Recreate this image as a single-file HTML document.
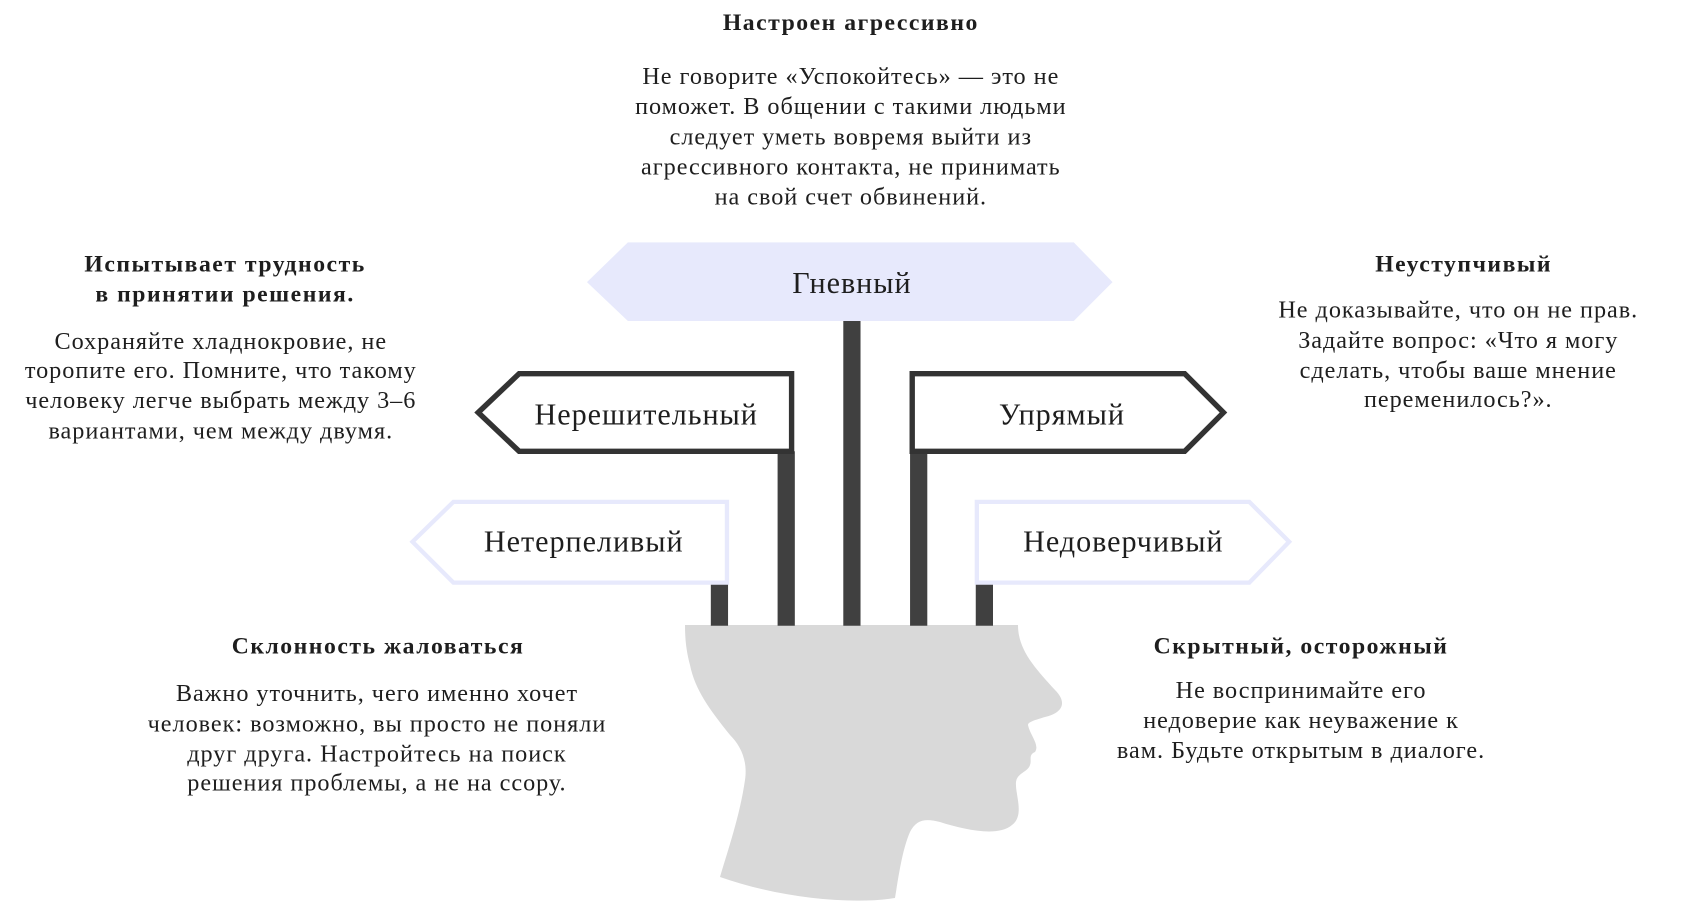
<!DOCTYPE html>
<html><head><meta charset="utf-8"><style>
html,body{margin:0;padding:0;background:#fff;width:1690px;height:903px;overflow:hidden}
svg text{font-family:"Liberation Serif","DejaVu Serif",serif;fill:#1e1e1e}
.b{font-weight:bold;font-size:22px;letter-spacing:1.4px}
.t{font-size:22.5px;letter-spacing:0.9px}
.s{font-size:28px;letter-spacing:0.9px}
</style></head><body>
<svg width="1690" height="903" viewBox="0 0 1690 903" xmlns="http://www.w3.org/2000/svg">
<path fill="#d9d9d9" d="M685,625 L1018,625 C1018,650 1035,668 1055,690 C1068,703 1062,713 1045,717 C1035,720 1028,722 1028,725 C1030,735 1040,745 1035,752 C1028,755 1032,760 1030,765 C1028,772 1017,773 1016,782 C1015,795 1025,815 1012,825 C998,837 965,830 940,822 C925,818 916,820 910,832 C902,850 898,880 895,898 C850,905 780,898 720,877 C728,850 740,815 745,780 C748,760 740,745 730,735 C710,710 695,690 690,665 C686,650 685,638 685,625 Z"/>
<g transform="scale(1.077)">
<rect x="783" y="296" width="16" height="285" fill="#404040"/>
<rect x="722" y="419" width="16" height="162" fill="#404040"/>
<rect x="845" y="419" width="16" height="162" fill="#404040"/>
<rect x="660" y="541" width="16" height="40" fill="#404040"/>
<rect x="906" y="541" width="16" height="40" fill="#404040"/>
<polygon points="545,262 583,225 997,225 1033,262 997,298 583,298" fill="#e7e9fc"/>
<polygon points="444,383 482,347 735,347 735,419 482,419" fill="#fff" stroke="#333" stroke-width="5"/>
<polygon points="847,347 1100,347 1136,383 1100,419 847,419" fill="#fff" stroke="#333" stroke-width="5"/>
<polygon points="383,503 421,466 675,466 675,541 421,541" fill="#fff" stroke="#e7e9fc" stroke-width="4"/>
<polygon points="907,466 1160,466 1197,503 1160,541 907,541" fill="#fff" stroke="#e7e9fc" stroke-width="4"/>
<g text-anchor="middle">
<text x="791" y="272" class="s">Гневный</text>
<text x="600" y="394" class="s">Нерешительный</text>
<text x="986" y="394" class="s">Упрямый</text>
<text x="542" y="512" class="s">Нетерпеливый</text>
<text x="1043" y="512" class="s">Недоверчивый</text>
</g>
<g text-anchor="middle">
<text x="790" y="28" class="b">Настроен агрессивно</text>
<text x="790" y="78" class="t">Не говорите «Успокойтесь» — это не</text>
<text x="790" y="106" class="t">поможет. В общении с такими людьми</text>
<text x="790" y="134" class="t">следует уметь вовремя выйти из</text>
<text x="790" y="162" class="t">агрессивного контакта, не принимать</text>
<text x="790" y="190" class="t">на свой счет обвинений.</text>

<text x="209" y="252" class="b">Испытывает трудность</text>
<text x="209" y="280" class="b">в принятии решения.</text>
<text x="205" y="324" class="t">Сохраняйте хладнокровие, не</text>
<text x="205" y="351" class="t">торопите его. Помните, что такому</text>
<text x="205" y="379" class="t">человеку легче выбрать между 3–6</text>
<text x="205" y="407" class="t">вариантами, чем между двумя.</text>

<text x="1359" y="252" class="b">Неуступчивый</text>
<text x="1354" y="295" class="t">Не доказывайте, что он не прав.</text>
<text x="1354" y="323" class="t">Задайте вопрос: «Что я могу</text>
<text x="1354" y="351" class="t">сделать, чтобы ваше мнение</text>
<text x="1354" y="378" class="t">переменилось?».</text>

<text x="351" y="607" class="b">Склонность жаловаться</text>
<text x="350" y="651" class="t">Важно уточнить, чего именно хочет</text>
<text x="350" y="679" class="t">человек: возможно, вы просто не поняли</text>
<text x="350" y="707" class="t">друг друга. Настройтесь на поиск</text>
<text x="350" y="734" class="t">решения проблемы, а не на ссору.</text>

<text x="1208" y="607" class="b">Скрытный, осторожный</text>
<text x="1208" y="648" class="t">Не воспринимайте его</text>
<text x="1208" y="676" class="t">недоверие как неуважение к</text>
<text x="1208" y="704" class="t">вам. Будьте открытым в диалоге.</text>
</g>
</g>
</svg>
</body></html>
